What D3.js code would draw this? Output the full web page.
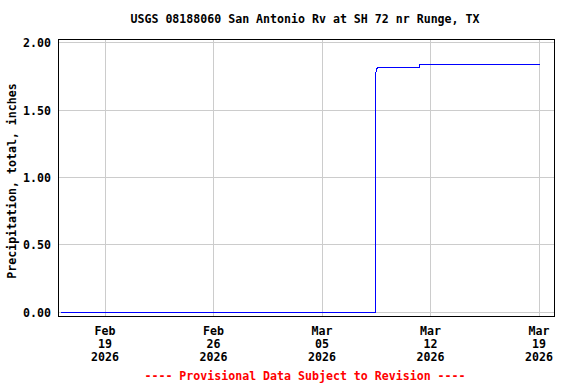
<!DOCTYPE html>
<html><head><meta charset="utf-8">
<script src="https://cdn.jsdelivr.net/npm/d3@7"></script>
<style>body{margin:0;background:#fff}svg{display:block}text{font-family:"DejaVu Sans Mono",monospace;font-weight:bold;font-size:11.6px}</style>
</head><body>
<script>
const title = "USGS 08188060 San Antonio Rv at SH 72 nr Runge, TX";
const yTitle = "Precipitation, total, inches";
const footer = "---- Provisional Data Subject to Revision ----";
const times = ["2026-02-16T03:00","2026-03-08T10:15","2026-03-08T10:30","2026-03-08T12:00","2026-03-08T15:00","2026-03-11T06:30","2026-03-11T06:45","2026-03-19T00:00"];
const values = [0.00, 0.00, 1.75, 1.81, 1.82, 1.82, 1.84, 1.84];
const xTicks = ["2026-02-19","2026-02-26","2026-03-05","2026-03-12","2026-03-19"];
const yTicks = [0, 0.5, 1.0, 1.5, 2.0];

const W=576,H=384, L=58, R=554, T=39, B=316;
const parse = d3.timeParse("%Y-%m-%dT%H:%M"), parseD = d3.timeParse("%Y-%m-%d");
const x = d3.scaleTime().domain([parseD("2026-02-16"), parseD("2026-03-20")]).range([L,R]);
const y = d3.scaleLinear().domain([0,2]).range([312.7,43.3]);
const svg = d3.select("body").append("svg").attr("width",W).attr("height",H);

svg.append("text").attr("x",305).attr("y",23).attr("text-anchor","middle").text(title);

const g = svg.append("g").attr("shape-rendering","crispEdges");
g.selectAll(".vg").data(xTicks.map(parseD)).join("line")
  .attr("x1",d=>Math.round(x(d))+0.5).attr("x2",d=>Math.round(x(d))+0.5).attr("y1",T).attr("y2",B)
  .attr("stroke","#cccccc").attr("stroke-width",1);
g.selectAll(".hg").data(yTicks).join("line")
  .attr("y1",d=>Math.round(y(d))-0.5).attr("y2",d=>Math.round(y(d))-0.5).attr("x1",L).attr("x2",R)
  .attr("stroke","#cccccc").attr("stroke-width",1);

const data = times.map((t,i)=>({t:parse(t), v:values[i]}));
svg.append("path").datum(data)
  .attr("d", d3.line().x(d=>Math.round(x(d.t))+0.5).y(d=>Math.round(y(d.v))-0.5))
  .attr("fill","none").attr("stroke","#0000ff").attr("stroke-width",1).attr("shape-rendering","crispEdges");

svg.append("rect").attr("x",L+0.5).attr("y",T+0.5).attr("width",R-L).attr("height",B-T)
  .attr("fill","none").attr("stroke","#000").attr("stroke-width",1).attr("shape-rendering","crispEdges");

svg.selectAll(".yl").data(yTicks).join("text")
  .attr("x",51).attr("y",d=>y(d)+4).attr("text-anchor","end").text(d=>d.toFixed(2));

const fmt = [d3.timeFormat("%b"), d3.timeFormat("%d"), d3.timeFormat("%Y")];
xTicks.map(parseD).forEach(d=>{
  fmt.forEach((f,i)=>{
    svg.append("text").attr("x",x(d)+0.5).attr("y",335+13*i).attr("text-anchor","middle").text(f(d));
  });
});

svg.append("text").attr("transform","translate(16,181) rotate(-90)").attr("text-anchor","middle").text(yTitle);
svg.append("text").attr("x",305).attr("y",380).attr("text-anchor","middle").attr("fill","#ff0000").text(footer);
</script>
</body></html>
